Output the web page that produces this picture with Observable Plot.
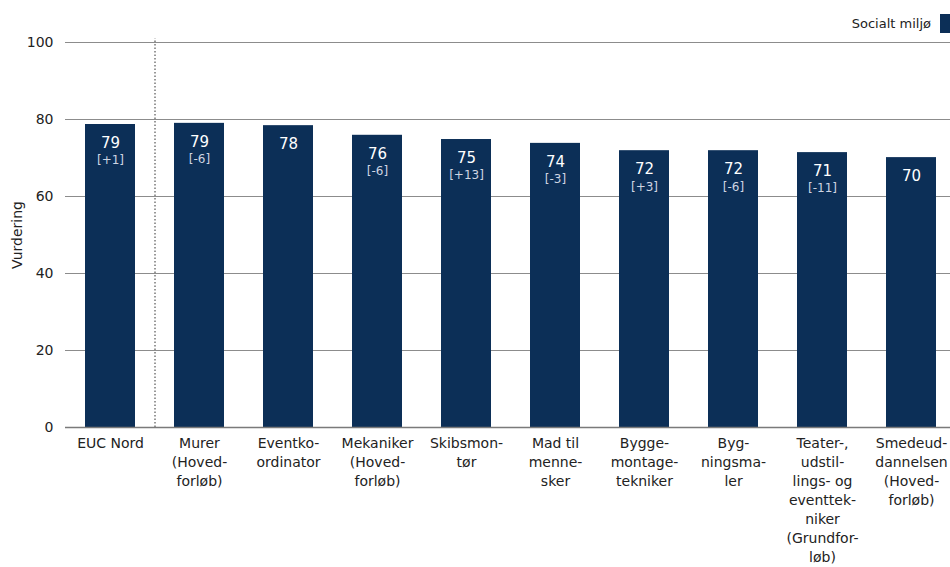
<!DOCTYPE html>
<html>
<head>
<meta charset="utf-8">
<script src="https://cdn.jsdelivr.net/npm/d3@7"></script>
<script src="https://cdn.jsdelivr.net/npm/@observablehq/plot@0.6"></script>
<style>
  html, body { margin: 0; padding: 0; background: #fff; }
  #wrap { position: relative; width: 950px; height: 567px; font-family: "DejaVu Sans", Verdana, sans-serif; }
  #legend { position: absolute; right: 0; top: 14px; display: flex; align-items: center; gap: 9px; font-size: 13px; color: #222; }
  #legend .sw { width: 10px; height: 19px; background: #0c2f57; }
</style>
</head>
<body>
<div id="wrap">
  <div id="legend"><span>Socialt miljø</span><span class="sw"></span></div>
  <div id="chart"></div>
</div>
<script>
const categories = [
  "EUC Nord",
  "Murer\n(Hoved-\nforløb)",
  "Eventko-\nordinator",
  "Mekaniker\n(Hoved-\nforløb)",
  "Skibsmon-\ntør",
  "Mad til\nmenne-\nsker",
  "Bygge-\nmontage-\ntekniker",
  "Byg-\nningsma-\nler",
  "Teater-,\nudstil-\nlings- og\neventtek-\nniker\n(Grundfor-\nløb)",
  "Smedeud-\ndannelsen\n(Hoved-\nforløb)"
];
const values = [78.7, 79.0, 78.4, 75.9, 74.8, 73.8, 71.9, 71.9, 71.4, 70.1];
const diffs = ["+1", "-6", null, "-6", "+13", "-3", "+3", "-6", "-11", null];
const yTicks = [0, 20, 40, 60, 80, 100];
const seriesName = "Socialt miljø";

const data = categories.map((c, i) => ({cat: c, value: values[i], diff: diffs[i]}));
const barColor = "#0c2f57";

const chart = Plot.plot({
  width: 950,
  height: 567,
  marginTop: 42,
  marginBottom: 140,
  marginLeft: 65,
  marginRight: 0,
  style: {fontFamily: "DejaVu Sans, Verdana, sans-serif", fontSize: "13px", color: "#222"},
  x: {domain: categories, range: [65.5, 955.5], paddingInner: 0.44, paddingOuter: 0.22, label: null},
  y: {domain: [0, 100], label: null},
  marks: [
    Plot.gridY(yTicks, {stroke: "#8c8c8c", strokeOpacity: 1, strokeWidth: 1}),
    Plot.ruleX([categories[0]], {y1: 0, y2: 101, dx: 44.5, stroke: "#333", strokeDasharray: "1.5,2", strokeWidth: 1}),
    Plot.barY(data, {x: "cat", y: "value", fill: barColor}),
    Plot.ruleY([0], {stroke: "#7a7a7a", strokeWidth: 1.3}),
    Plot.text(data, {x: "cat", y: "value", text: d => String(Math.round(d.value)), dy: 19, fill: "white", fontSize: 15}),
    Plot.text(data.filter(d => d.diff), {x: "cat", y: "value", text: d => `[${d.diff}]`, dy: 36, fill: "#cfd5e2", fontSize: 12}),
    Plot.axisY({ticks: yTicks, tickSize: 0, tickPadding: 12, fontSize: 14, label: "Vurdering", labelAnchor: "center", labelOffset: 53, labelArrow: "none"}),
    Plot.axisX({tickSize: 0, tickPadding: 7, fontSize: 14, lineHeight: 1.36, textAnchor: "middle", lineAnchor: "top", label: null})
  ]
});
document.getElementById("chart").appendChild(chart);
</script>
</body>
</html>
